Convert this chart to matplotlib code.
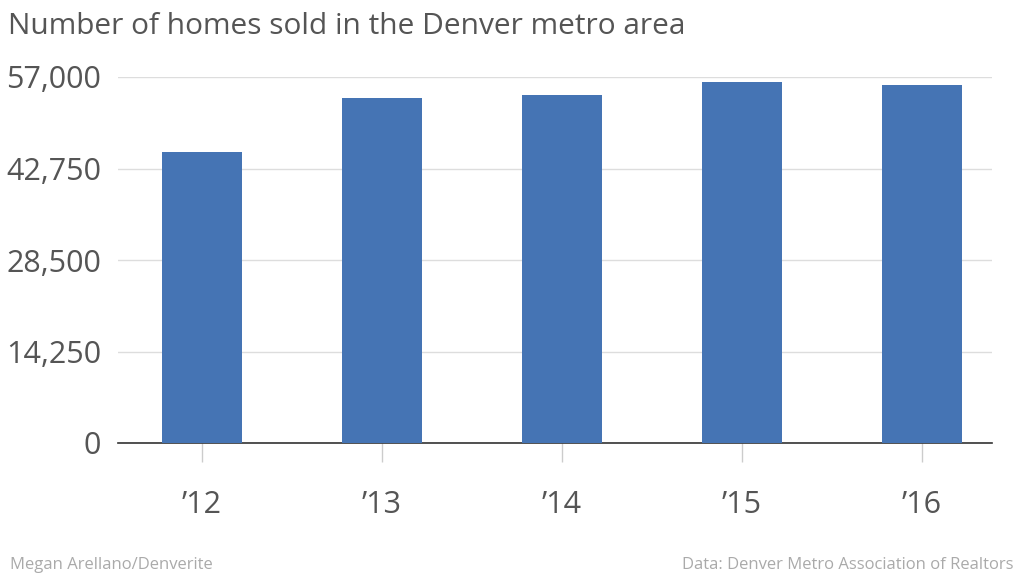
import matplotlib.pyplot as plt

years = ["\u201912", "\u201913", "\u201914", "\u201915", "\u201916"]
homes_sold = [45300, 53700, 54200, 56200, 55700]
y_ticks = [0, 14250, 28500, 42750, 57000]
y_labels = ["0", "14,250", "28,500", "42,750", "57,000"]

plt.rcParams['font.family'] = 'Open Sans'
grey = '#555555'

fig = plt.figure(figsize=(10.24, 5.76), dpi=100)
ax = fig.add_axes([118/1024, 1 - 443/576, (992-118)/1024, (443-77)/576])

x = list(range(len(years)))
ax.bar(x, homes_sold, width=0.44, color='#4574b4', zorder=3)
ax.set_xlim(-0.467, 4.389)
ax.set_ylim(0, 57000)
ax.set_yticks(y_ticks)
ax.set_yticklabels(y_labels, fontsize=22, color=grey)
ax.set_xticks(x)
ax.set_xticklabels(years, fontsize=22, color=grey)
ax.tick_params(axis='y', length=0, pad=12)
ax.tick_params(axis='x', length=14, width=1, color='#cccccc', pad=20, direction='out')
ax.grid(axis='y', color='#dddddd', linewidth=1, zorder=0)
for s in ['top', 'right', 'left']:
    ax.spines[s].set_visible(False)
ax.spines['bottom'].set_color('#333333')
ax.spines['bottom'].set_linewidth(1.2)

fig.text(8/1024, 1 - 26/576, 'Number of homes sold in the Denver metro area',
         fontsize=21.5, color=grey, va='center')
fig.text(10/1024, 1 - 565/576, 'Megan Arellano/Denverite', fontsize=12, color='#aaaaaa', va='center')
fig.text(1014/1024, 1 - 565/576, 'Data: Denver Metro Association of Realtors', fontsize=12,
         color='#aaaaaa', va='center', ha='right')

fig.savefig('out.png', dpi=100)
